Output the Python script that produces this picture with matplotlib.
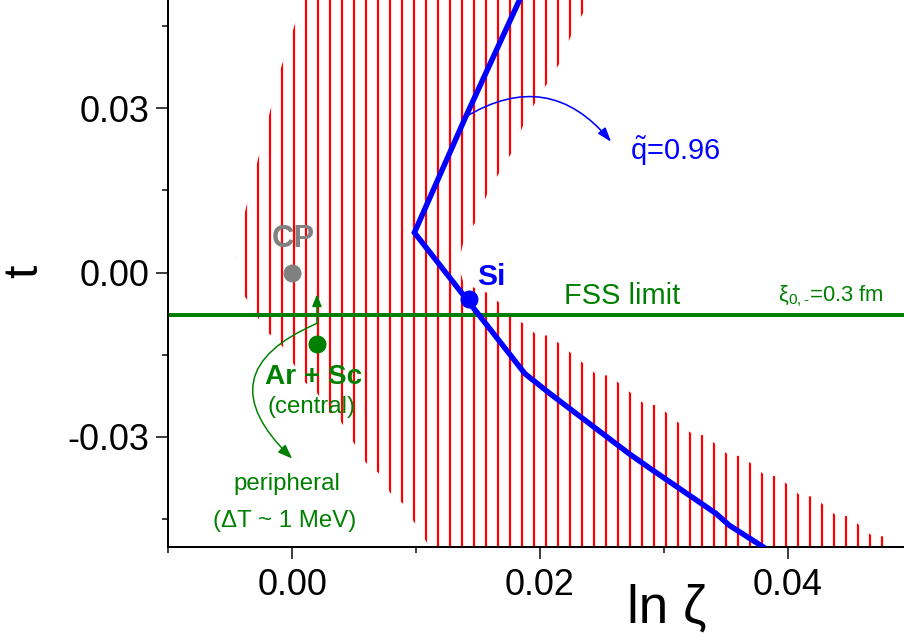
import matplotlib
matplotlib.use("Agg")
import matplotlib.pyplot as plt
from matplotlib.ticker import MultipleLocator, FormatStrFormatter

# ── data ────────────────────────────────────────────────────────────────────
# hatched region: left edge (top -> bottom)
left_x = [0.0010, 0.0, -0.00103, -0.00203, -0.00305, -0.00405, -0.0046,
          -0.00405, -0.00305, -0.00203, -0.00103, 0.0, 0.00099, 0.00195,
          0.00298, 0.00395, 0.00497, 0.00597, 0.00696, 0.00793, 0.00893,
          0.00993, 0.01092, 0.0112]
left_t = [0.0510, 0.0438, 0.0365, 0.0272, 0.0181, 0.0088, 0.0026,
          -0.0035, -0.0072, -0.0109, -0.0127, -0.0163, -0.0200, -0.0218,
          -0.0255, -0.0273, -0.0311, -0.0348, -0.0366, -0.0403, -0.0422,
          -0.0459, -0.0495, -0.0510]
# lower right edge (vertex -> bottom right)
lower_x = [0.0134, 0.01385, 0.01485, 0.01585, 0.01682, 0.01781, 0.01881,
           0.01978, 0.02075, 0.02174, 0.02271, 0.02368, 0.02465, 0.02562,
           0.02659, 0.02756, 0.02853, 0.0295, 0.03047, 0.03144, 0.03241,
           0.03337, 0.03434, 0.03532, 0.03629, 0.03726, 0.03822, 0.03915,
           0.04014, 0.04109, 0.04203, 0.04304, 0.04397, 0.04495, 0.0459,
           0.04687, 0.04781, 0.0484, 0.0486]
lower_t = [0.0015, -0.0020, -0.0029, -0.0038, -0.0057, -0.0081, -0.0095,
           -0.0115, -0.0115, -0.0133, -0.0151, -0.0169, -0.0188, -0.0188,
           -0.0206, -0.0224, -0.0242, -0.0242, -0.0261, -0.0279, -0.0297,
           -0.0297, -0.0317, -0.0335, -0.0335, -0.0353, -0.0372, -0.0372,
           -0.0390, -0.0409, -0.0409, -0.0427, -0.0445, -0.0445, -0.0464,
           -0.0482, -0.0482, -0.0501, -0.0520]
# upper right edge (vertex -> top)
upper_x = [0.0134, 0.01385, 0.01485, 0.01585, 0.01682, 0.01781, 0.01881,
           0.01978, 0.02075, 0.02174, 0.02271, 0.02368, 0.0243]
upper_t = [0.0015, 0.0058, 0.0094, 0.0149, 0.0186, 0.0222, 0.0278,
           0.0317, 0.0351, 0.0388, 0.0444, 0.0481, 0.0510]

# q~ = 0.96 curve
q_x = [0.0184, 0.0140, 0.00987, 0.0188, 0.0208, 0.0272, 0.0289, 0.0342,
       0.0353, 0.0380]
q_t = [0.0500, 0.0284, 0.0073, -0.0185, -0.0221, -0.0331, -0.0358,
       -0.0440, -0.0462, -0.0501]

fss_t = -0.0077
cp_pt = (0.0, 0.0)
arsc_pt = (0.002, -0.013)
si_pt = (0.0143, -0.0049)

x_ticks = [0.00, 0.02, 0.04]
y_ticks = [-0.03, 0.00, 0.03]

RED = "#ff0000"
BLUE = "#0000ff"
GREEN = "#008000"
GRAY = "#808080"

plt.rcParams["font.family"] = ["Liberation Sans", "DejaVu Sans"]
plt.rcParams["mathtext.fontset"] = "custom"
plt.rcParams["mathtext.rm"] = "Liberation Sans"
plt.rcParams["mathtext.it"] = "Liberation Sans:italic"
plt.rcParams["mathtext.bf"] = "Liberation Sans:bold"
plt.rcParams["hatch.linewidth"] = 2.2

W, H = 904, 641
fig = plt.figure(figsize=(W / 72, H / 72), dpi=72)
ax = fig.add_axes([168.3 / W, 1 - 546.7 / H, (W - 168.3) / W, 546.7 / H])

# ── hatched region ──────────────────────────────────────────────────────────
zone_x = left_x + lower_x[::-1] + upper_x
zone_t = left_t + lower_t[::-1] + upper_t
ax.fill(zone_x, zone_t, facecolor="none", edgecolor=RED, hatch="|",
        linewidth=0, zorder=1)

# ── lines and points ────────────────────────────────────────────────────────
ax.axhline(fss_t, color=GREEN, lw=4, zorder=2)
ax.plot(q_x, q_t, color=BLUE, lw=5.5, solid_joinstyle="miter", zorder=3)
ax.plot(*cp_pt, "o", color=GRAY, ms=17, zorder=4)
ax.plot(*arsc_pt, "o", color=GREEN, ms=17, zorder=4)
ax.plot(*si_pt, "o", color=BLUE, ms=17, zorder=4)

# ── arrows ──────────────────────────────────────────────────────────────────
ax.annotate("", xy=(0.002, -0.0040), xytext=(0.002, -0.0093),
            arrowprops=dict(arrowstyle="-|>,head_length=1.0,head_width=0.4",
                            color=GREEN, lw=1.5, shrinkA=0, shrinkB=0))
ax.annotate("", xy=(0.0, -0.034), xytext=(0.002, -0.0093),
            arrowprops=dict(arrowstyle="-|>,head_length=1.2,head_width=0.45",
                            color=GREEN, lw=1.5, shrinkA=0, shrinkB=0,
                            connectionstyle="arc3,rad=0.75"))
ax.annotate("", xy=(0.02576, 0.02386), xytext=(0.01399, 0.02843),
            arrowprops=dict(arrowstyle="-|>,head_length=1.2,head_width=0.4",
                            color=BLUE, lw=1.6, shrinkA=0, shrinkB=0,
                            connectionstyle="arc3,rad=-0.43"))

# ── texts ───────────────────────────────────────────────────────────────────
ax.text(0.00012, 0.0062, "CP", color=GRAY, fontsize=31, fontweight="bold",
        ha="center", va="center")
ax.text(0.01607, -0.0008, "Si", color=BLUE, fontsize=30, fontweight="bold",
        ha="center", va="center")
ax.text(0.02726, 0.02065, r"$\mathrm{\tilde{q}}$=0.96", color=BLUE,
        fontsize=29, ha="left", va="baseline")
ax.text(0.02665, -0.00579, "FSS limit", color=GREEN, fontsize=29,
        ha="center", va="baseline")
ax.text(0.03922, -0.00519, r"$\mathrm{\xi}_{\mathrm{0,}\text{-}}$=0.3 fm",
        color=GREEN, fontsize=22, ha="left", va="baseline")
ax.text(0.00176, -0.02028, "Ar + Sc", color=GREEN, fontsize=28,
        fontweight="bold", ha="center", va="baseline")
ax.text(0.00157, -0.0257, "(central)", color=GREEN, fontsize=24,
        ha="center", va="baseline")
ax.text(-0.00042, -0.03978, "peripheral", color=GREEN, fontsize=24,
        ha="center", va="baseline")
ax.text(-0.00061, -0.0465, "(\u0394T ~ 1 MeV)", color=GREEN, fontsize=24,
        ha="center", va="baseline")

fig.text(25 / W, 1 - 271 / H, "t", rotation=90, fontsize=48,
         ha="center", va="center")
fig.text(667 / W, 1 - 622.7 / H, "ln \u03b6", fontsize=53,
         ha="center", va="baseline")

# ── axes ────────────────────────────────────────────────────────────────────
ax.set_xlim(-0.0100, 0.0494)
ax.set_ylim(-0.0501, 0.0498)
ax.set_xticks(x_ticks)
ax.set_yticks(y_ticks)
ax.xaxis.set_minor_locator(MultipleLocator(0.01))
ax.yaxis.set_minor_locator(MultipleLocator(0.015))
ax.xaxis.set_major_formatter(FormatStrFormatter("%.2f"))
ax.yaxis.set_major_formatter(FormatStrFormatter("%.2f"))
ax.tick_params(which="major", direction="out", length=11.7, width=1.5,
               labelsize=36)
ax.tick_params(axis="x", which="major", pad=10)
ax.tick_params(axis="y", which="major", pad=7)
ax.tick_params(which="minor", direction="out", length=6, width=1.5)
for side in ("top", "right"):
    ax.spines[side].set_visible(False)
for side in ("left", "bottom"):
    ax.spines[side].set_linewidth(2)

fig.savefig("out.png", dpi=72)
